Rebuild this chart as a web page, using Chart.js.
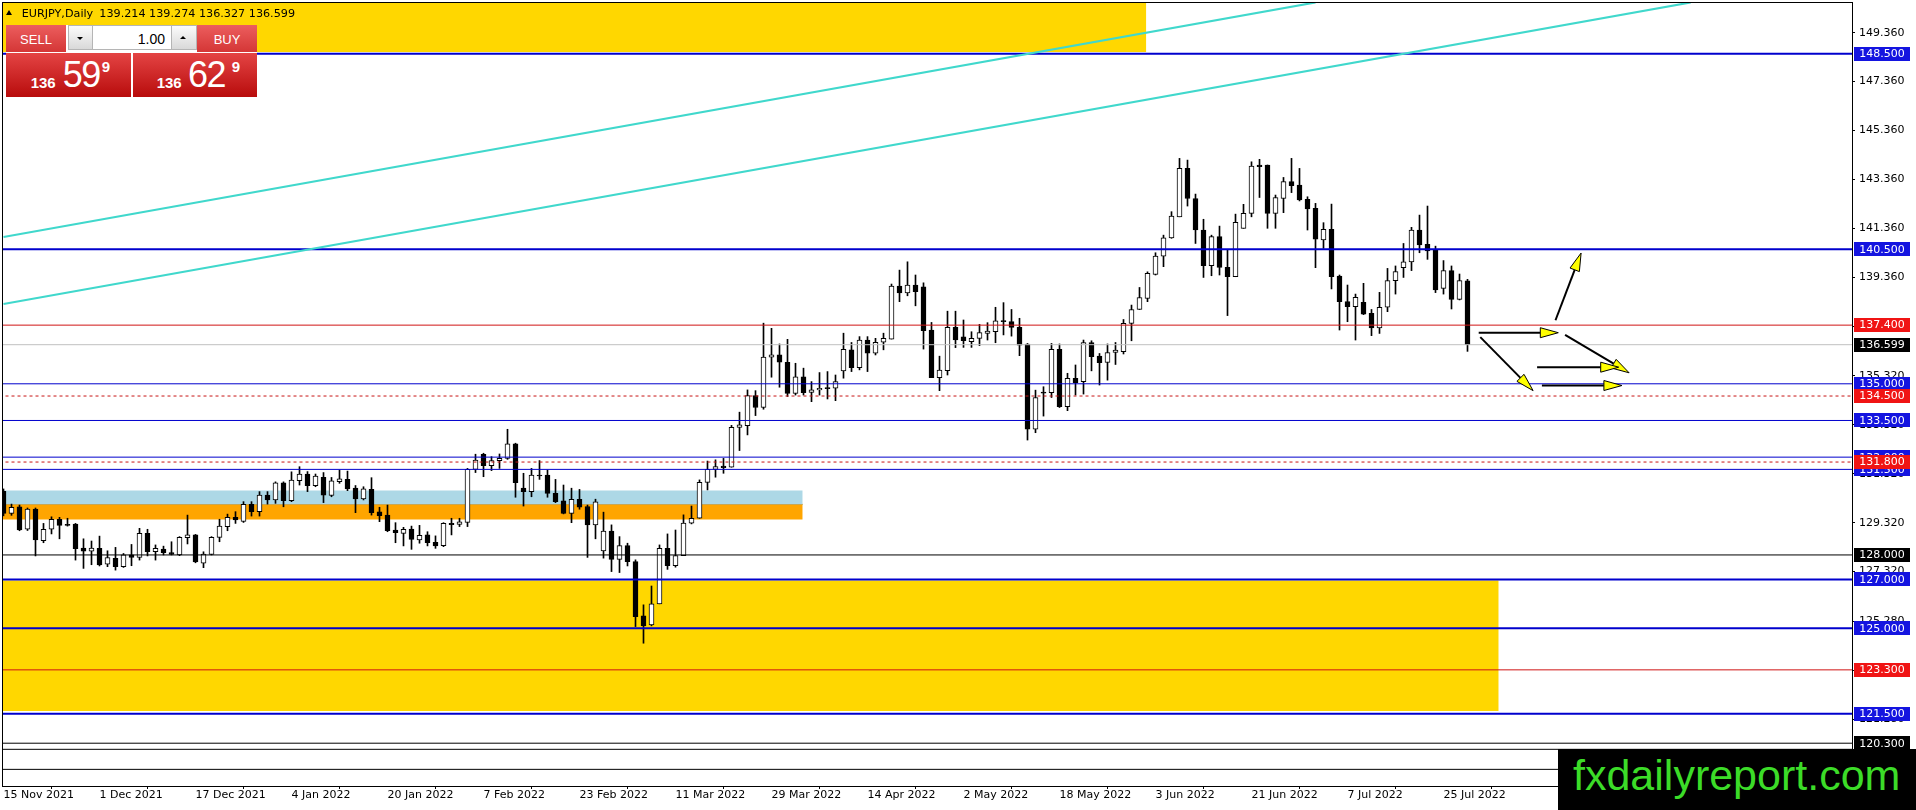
<!DOCTYPE html>
<html><head><meta charset="utf-8">
<script src="https://cdn.jsdelivr.net/npm/chart.js@4.4.1/dist/chart.umd.min.js"></script>
<style>
html,body{margin:0;padding:0;background:#fff;overflow:hidden}
#wrap{position:relative;width:1916px;height:810px}
#c{position:absolute;left:0;top:0}
.a{position:absolute;white-space:pre}
.box{position:absolute;box-sizing:border-box}
.btn{background:linear-gradient(#EC5E5E,#D43636)}
.px{background:linear-gradient(#E44444,#B80C0C)}
.gr{background:linear-gradient(#fbfbfb,#d9d9d9);border:1px solid #b5b5b5}
.w{color:#fff;font-family:'Liberation Sans',Arial,sans-serif;line-height:1}
</style></head><body>
<div id="wrap">
<canvas id="c" width="1916" height="810"></canvas>

<div class="box" style="left:6px;top:10px;width:0;height:0;border-left:3.5px solid transparent;border-right:3.5px solid transparent;border-bottom:5px solid #000"></div>

<div class="box" style="left:6px;top:25px;width:251px;height:72px;background:#fff"></div>
<div class="box btn" style="left:6px;top:25px;width:60px;height:27px"></div>
<div class="a w" style="left:6px;width:60px;text-align:center;top:33.3px;font-size:13px">SELL</div>
<div class="box gr" style="left:68px;top:25px;width:25px;height:25px"></div>
<div class="box" style="left:77px;top:36.5px;width:0;height:0;border-left:3px solid transparent;border-right:3px solid transparent;border-top:3.5px solid #000"></div>
<div class="box" style="left:93px;top:25px;width:78px;height:25px;background:#fff;border-top:1px solid #b5b5b5;border-bottom:1px solid #b5b5b5"></div>
<div class="a" style="left:93px;width:72px;text-align:right;top:31.5px;font:14px/1 'Liberation Sans';color:#000">1.00</div>
<div class="box gr" style="left:171px;top:25px;width:26px;height:25px"></div>
<div class="box" style="left:180px;top:35.5px;width:0;height:0;border-left:3px solid transparent;border-right:3px solid transparent;border-bottom:3.5px solid #000"></div>
<div class="box btn" style="left:197px;top:25px;width:60px;height:27px"></div>
<div class="a w" style="left:197px;width:60px;text-align:center;top:33.3px;font-size:13px">BUY</div>

<div class="box px" style="left:6px;top:53px;width:125px;height:44px"></div>
<div class="a w" style="left:30.7px;top:74.6px;font-size:15px;font-weight:bold">136</div>
<div class="a w" style="left:62.7px;top:56.8px;font-size:36px;letter-spacing:-1.5px">59</div>
<div class="a w" style="left:101.7px;top:59px;font-size:15px;font-weight:bold">9</div>
<div class="box px" style="left:133px;top:53px;width:124px;height:44px"></div>
<div class="a w" style="left:156.7px;top:74.6px;font-size:15px;font-weight:bold">136</div>
<div class="a w" style="left:188px;top:56.8px;font-size:36px;letter-spacing:-1.5px">62</div>
<div class="a w" style="left:231.7px;top:59px;font-size:15px;font-weight:bold">9</div>

<div class="box" style="left:1558px;top:749px;width:358px;height:61px;background:#000"></div>
<div class="a" style="left:1573px;top:753.6px;font:43px/1 'Liberation Sans';color:#3CDC28">fxdailyreport.com</div>
</div>

<script>
// ---------- DATA ----------
const chartTitle = 'EURJPY,Daily';
const titleOHLC = '139.214 139.274 136.327 136.599';
const xTickIndex = [0,12,24,36,48,60,72,84,96,108,120,132,144,156,168,180];
const xTickLabels = ['15 Nov 2021','1 Dec 2021','17 Dec 2021','4 Jan 2022','20 Jan 2022','7 Feb 2022','23 Feb 2022','11 Mar 2022','29 Mar 2022','14 Apr 2022','2 May 2022','18 May 2022','3 Jun 2022','21 Jun 2022','7 Jul 2022','25 Jul 2022'];
const yTickValues = [149.36,147.36,145.36,143.36,141.36,139.36,137.36,135.32,133.32,131.32,129.32,127.32,125.28,123.28,121.28];

const openP = [
130.60,129.70,129.97,129.05,129.88,128.58,129.05,129.46,129.25,129.26,
128.28,128.15,128.27,127.62,127.86,127.52,128.00,127.90,128.88,128.13,
128.24,128.10,128.00,128.71,128.82,127.66,128.02,128.72,129.16,129.54,
129.37,130.07,129.77,130.45,130.25,130.95,130.22,131.04,131.31,130.83,
131.17,130.43,131.00,131.09,130.73,130.29,130.68,129.76,129.63,129.02,
128.88,129.06,128.61,128.82,128.52,128.38,129.29,129.25,129.33,131.50,
132.12,131.65,131.86,131.95,132.54,130.73,130.59,131.27,131.27,130.52,
130.21,129.70,130.28,129.98,129.23,128.16,128.98,127.82,128.38,127.73,
125.51,125.14,126.00,128.27,127.56,127.97,129.30,129.50,130.97,131.50,
131.64,131.59,133.22,133.29,134.52,134.03,136.09,136.18,135.88,134.61,
135.29,134.65,134.75,134.85,134.82,135.53,136.39,135.66,136.79,136.25,
136.70,136.83,139.00,138.72,139.04,138.97,137.20,135.25,135.54,137.31,
136.92,136.72,136.86,137.06,137.13,137.59,137.54,137.31,136.62,133.14,
134.66,134.64,136.41,134.06,135.22,135.09,136.69,136.13,135.87,136.28,
136.31,137.47,138.04,138.49,139.47,140.22,140.97,141.83,143.81,142.58,
141.29,139.83,141.02,139.76,139.38,141.36,141.97,143.95,143.95,141.97,
142.58,143.27,143.13,142.54,142.18,140.88,141.32,139.41,138.36,138.15,
138.33,137.88,137.29,138.13,139.22,139.75,139.99,141.29,140.70,140.50,
138.90,139.63,138.45,139.214];
const highP = [
130.70,130.08,130.04,129.92,129.92,129.29,129.56,129.54,129.50,129.29,
128.66,128.57,128.77,128.17,128.31,128.06,128.43,129.09,129.05,128.41,
128.36,128.54,128.75,129.63,128.84,128.13,128.75,129.46,129.67,129.77,
130.18,130.18,130.59,130.59,130.99,130.99,131.40,131.61,131.41,131.31,
131.37,131.17,131.47,131.43,130.84,130.79,131.16,129.95,130.04,129.32,
129.13,129.18,129.21,128.95,128.78,129.32,129.50,129.50,131.54,132.12,
132.16,132.02,132.13,133.14,132.57,131.34,131.54,131.86,131.47,131.09,
130.86,130.73,130.68,130.04,130.28,129.75,129.23,128.75,128.48,127.80,
125.96,126.73,128.41,128.86,129.02,129.64,130.00,131.07,131.84,131.89,
131.95,133.30,133.84,134.75,134.72,137.48,137.27,136.63,136.82,135.84,
135.64,135.09,135.46,135.50,135.36,137.07,136.69,136.93,136.93,136.86,
137.07,139.08,139.65,139.99,139.45,139.13,137.51,136.13,137.97,137.97,
137.61,137.13,137.43,137.50,138.13,138.32,138.04,137.68,136.65,134.74,
134.88,136.65,136.63,135.43,135.77,136.79,136.76,136.24,136.63,136.69,
137.63,138.22,138.94,139.58,140.36,141.08,142.04,144.22,144.15,142.76,
141.73,141.08,141.45,140.47,141.94,142.34,144.08,144.18,143.95,142.72,
143.44,144.22,143.81,142.65,142.38,141.59,142.35,139.45,139.04,138.67,
139.11,138.04,138.74,139.72,139.82,140.74,141.40,141.90,142.27,140.63,
140.04,139.82,139.49,139.274];
const lowP = [
129.60,129.62,128.99,129.00,127.96,128.50,128.86,128.66,129.18,127.79,
127.45,127.60,127.55,127.52,127.38,127.49,127.56,127.79,127.96,127.79,
128.00,128.00,127.97,128.45,127.68,127.48,128.00,128.54,128.99,129.29,
129.33,129.59,129.59,130.08,130.11,129.97,130.18,130.86,130.59,130.79,
130.14,130.38,130.93,130.63,129.73,130.25,129.63,129.36,128.95,128.50,
128.37,128.23,128.48,128.37,128.27,128.34,128.82,129.16,129.16,131.37,
131.20,131.45,131.54,131.91,130.36,130.00,130.38,131.09,130.36,130.14,
129.68,129.32,129.87,127.90,128.66,127.87,127.32,127.28,127.55,125.07,
124.39,125.10,126.00,127.41,127.50,127.97,129.27,129.50,130.66,131.18,
131.34,131.59,132.27,132.91,133.70,133.96,135.27,134.86,134.48,134.54,
134.54,134.27,134.54,134.38,134.31,135.23,135.50,135.57,135.50,136.18,
136.39,136.83,138.36,138.60,138.19,136.42,135.25,134.72,135.36,136.48,
136.49,136.49,136.56,136.79,136.68,137.00,136.95,136.15,132.70,133.00,
133.68,134.44,134.03,133.90,134.54,134.58,135.53,134.95,135.15,135.79,
136.22,136.76,138.04,138.36,139.45,139.79,140.95,141.83,142.27,140.74,
139.35,139.42,139.45,137.79,139.38,141.36,141.83,142.62,141.36,141.36,
142.00,142.82,142.48,141.29,139.75,140.54,138.88,137.20,137.54,136.79,
137.83,136.97,137.06,137.95,138.67,139.35,139.63,140.36,140.09,138.73,
138.67,138.06,138.43,136.327];
const closeP = [
129.70,129.95,129.02,129.88,128.61,129.05,129.46,129.21,129.21,128.26,
128.15,128.28,127.59,127.89,127.52,128.00,127.90,128.88,128.13,128.27,
128.09,128.02,128.72,128.82,127.72,128.04,128.72,129.18,129.54,129.43,
130.07,129.77,130.45,130.25,130.95,130.22,131.06,131.31,130.83,131.23,
130.45,131.03,131.11,130.70,130.29,130.70,129.73,129.61,128.99,128.91,
129.05,128.64,128.80,128.50,128.37,129.29,129.24,129.35,131.50,131.88,
131.65,131.86,131.95,132.54,130.96,130.59,131.27,131.23,130.52,130.18,
129.70,130.28,129.95,129.23,130.17,128.98,127.82,128.38,127.73,125.48,
125.10,126.00,128.27,127.56,127.97,129.30,129.50,130.97,131.50,131.61,
131.57,133.22,133.32,134.52,134.03,136.09,136.18,135.88,134.61,135.29,
134.64,134.75,134.82,134.80,135.09,136.41,135.66,136.79,136.25,136.70,
136.86,139.00,138.72,139.04,138.77,137.17,135.25,135.56,137.31,136.79,
136.76,136.86,137.09,137.16,137.58,137.54,137.31,136.58,133.14,134.44,
134.62,136.41,134.06,135.22,135.05,136.69,136.11,135.86,136.28,136.38,
137.47,138.04,138.53,139.52,140.22,140.97,141.86,143.81,142.58,141.29,
139.83,141.02,139.76,139.38,141.60,141.97,143.91,143.88,141.97,142.62,
143.27,143.10,142.52,142.15,140.92,141.32,139.38,138.36,138.15,138.54,
137.85,137.29,138.13,139.22,139.59,139.99,141.29,140.68,140.44,138.84,
139.63,138.45,139.22,136.599];

const levelPrices = [148.5,140.5,137.4,136.599,135.0,134.5,133.5,132.0,131.8,131.5,128.0,127.0,125.0,123.3,121.5,120.3,120.05,119.23];
const levelKinds  = ['blueThick','blueThick','red','gray','blue','redDash','blue','blue','redDash','blue','black','blueThick','blueThick','red','blueThick','black','black','black'];

const tagPrices = [148.5,140.5,137.4,136.599,135.0,134.5,133.5,132.0,131.5,131.8,128.0,127.0,125.0,123.3,121.5,120.3];
const tagKinds  = ['blue','blue','red','black','blue','red','blue','blue','blue','red','black','blue','blue','red','blue','black'];

const zoneX0 = [-1,-1,-1,-1];
const zoneX1 = [142.85,186.9,99.9,99.9];
const zoneTop = [151.0,126.95,130.64,130.07];
const zoneBottom = [148.57,121.62,130.07,129.45];
const zoneKinds = ['gold','gold','lightblue','orange'];

const trendX0 = [0,0];
const trendY0 = [141.0,138.26];
const trendX1 = [164.0,210.9];
const trendY1 = [150.6,150.6];

const arrowX0 = [184.4,194.0,195.2,191.7,184.6,192.3];
const arrowY0 = [137.09,137.60,137.00,135.68,136.91,134.93];
const arrowX1 = [194.35,197.2,203.2,201.9,191.2,202.3];
const arrowY1 = [137.09,140.35,135.45,135.68,134.72,134.93];

// ---------- STYLES ----------
const LEVEL_STYLE = {
  blueThick:{color:'#0000CD',width:2,dash:[]},
  blue:{color:'#0000CD',width:1,dash:[]},
  red:{color:'#D01414',width:1,dash:[]},
  redDash:{color:'#C81414',width:1,dash:[3,3]},
  black:{color:'#000000',width:1,dash:[]},
  gray:{color:'#C0C0C0',width:1,dash:[]}
};
const TAG_COLOR = {blue:'#1414E0',red:'#F01414',black:'#000000'};
const ZONE_COLOR = {gold:'#FFD700',lightblue:'#ADD8E6',orange:'#FFA500'};
const FONT = "'DejaVu Sans'";

// ---------- DATASETS ----------
const idx = openP.map((_, i) => i);
const datasets = [];

zoneKinds.forEach((k, i) => {
  datasets.push({
    type:'line', order:20, clip:0,
    data:[{x:zoneX0[i],y:zoneTop[i]},{x:zoneX1[i],y:zoneTop[i]}],
    borderWidth: k==='orange'?1:0, borderColor: k==='orange'?'#C8901E':ZONE_COLOR[k],
    backgroundColor:ZONE_COLOR[k], pointRadius:0,
    fill:{value:zoneBottom[i]}
  });
});

datasets.push({
  type:'bar', order:6, grouped:false, clip:0,
  data: idx.map(i => ({x:i, y:[lowP[i], highP[i]]})),
  backgroundColor:'#000', borderWidth:0, barThickness:1
});
datasets.push({
  type:'bar', order:5, grouped:false, clip:0, minBarLength:1,
  data: idx.map(i => ({x:i, y:[openP[i], closeP[i]]})),
  backgroundColor: idx.map(i => closeP[i] > openP[i] ? '#FFFFFF' : '#000000'),
  borderColor:'#000', borderWidth:1, borderSkipped:false, barThickness:5
});

levelPrices.forEach((v, i) => {
  const s = LEVEL_STYLE[levelKinds[i]];
  datasets.push({
    type:'line', order:3, clip:0,
    data:[{x:-5,y:v},{x:240,y:v}],
    borderColor:s.color, borderWidth:s.width, borderDash:s.dash,
    pointRadius:0, fill:false
  });
});

trendX0.forEach((x0, i) => {
  datasets.push({
    type:'line', order:2, clip:0,
    data:[{x:x0,y:trendY0[i]},{x:trendX1[i],y:trendY1[i]}],
    borderColor:'#40D8CC', borderWidth:2, pointRadius:0, fill:false
  });
});

// ---------- PLUGINS ----------
const arrowPlugin = {
  id:'arrows',
  afterDatasetsDraw(chart){
    const {ctx, scales:{x, y}} = chart;
    ctx.save();
    for (let k = 0; k < arrowX0.length; k++){
      const x0 = x.getPixelForValue(arrowX0[k]), y0 = y.getPixelForValue(arrowY0[k]);
      const x1 = x.getPixelForValue(arrowX1[k]), y1 = y.getPixelForValue(arrowY1[k]);
      const a = Math.atan2(y1 - y0, x1 - x0);
      const L = 18, W = 5;
      const bx = x1 - L*Math.cos(a), by = y1 - L*Math.sin(a);
      ctx.strokeStyle = '#000'; ctx.lineWidth = 2;
      ctx.beginPath(); ctx.moveTo(x0, y0); ctx.lineTo(bx, by); ctx.stroke();
      ctx.beginPath();
      ctx.moveTo(x1, y1);
      ctx.lineTo(bx + W*Math.sin(a), by - W*Math.cos(a));
      ctx.lineTo(bx - W*Math.sin(a), by + W*Math.cos(a));
      ctx.closePath();
      ctx.fillStyle = '#FFFF00'; ctx.fill();
      ctx.lineWidth = 1; ctx.stroke();
    }
    ctx.restore();
  }
};

const framePlugin = {
  id:'frameTags',
  afterDraw(chart){
    const {ctx, chartArea:a, scales:{y}} = chart;
    ctx.save();
    ctx.strokeStyle = '#000'; ctx.lineWidth = 1;
    ctx.strokeRect(Math.round(a.left)+0.5, Math.round(a.top)+0.5, Math.round(a.right-a.left), Math.round(a.bottom-a.top));
    ctx.font = '11px ' + FONT;
    ctx.textBaseline = 'middle'; ctx.textAlign = 'left';
    tagPrices.forEach((v, i) => {
      const py = y.getPixelForValue(v);
      ctx.fillStyle = TAG_COLOR[tagKinds[i]];
      ctx.fillRect(a.right + 2, Math.round(py - 7), 56, 14);
      ctx.fillStyle = '#FFFFFF';
      ctx.fillText(v.toFixed(3), a.right + 7.3, py + 0.5);
    });
    // title: fit to the reference text span
    const mw = ctx.measureText(titleOHLC).width || 192;
    const fs = Math.max(10, Math.min(14, 11 * 195.7 / mw));
    ctx.font = fs.toFixed(2) + 'px ' + FONT;
    ctx.fillStyle = '#000';
    ctx.textBaseline = 'alphabetic';
    ctx.fillText(chartTitle, 21.7, 17.3);
    ctx.fillText(titleOHLC, 99.3, 17.3);
    ctx.restore();
  }
};

new Chart(document.getElementById('c'), {
  type:'bar',
  data:{datasets},
  options:{
    responsive:false, animation:false, devicePixelRatio:1,
    layout:{padding:{left:2, top:2, right:0, bottom:0}, autoPadding:false},
    plugins:{legend:{display:false}, tooltip:{enabled:false}},
    scales:{
      x:{
        type:'linear', min:-0.1875, max:231.0625, offset:false, bounds:'data',
        afterBuildTicks: s => { s.ticks = xTickIndex.map(v => ({value:v})); },
        afterFit: s => { s.height = 24; s.paddingLeft = 0; s.paddingRight = 0; s.paddingTop = 0; s.paddingBottom = 0; },
        ticks:{autoSkip:false, maxRotation:0, minRotation:0, align:'start', padding:0,
          color:'#000', font:{family:'DejaVu Sans', size:11},
          callback: v => { const j = xTickIndex.indexOf(v); return j >= 0 ? xTickLabels[j] : ''; }},
        grid:{display:true, drawOnChartArea:false, drawTicks:true, tickLength:3, color:'#000'},
        border:{display:false}
      },
      y:{
        type:'linear', position:'right', min:118.55, max:150.616, bounds:'data',
        afterBuildTicks: s => { s.ticks = yTickValues.map(v => ({value:v})); },
        afterFit: s => { s.width = 64; s.paddingTop = 0; s.paddingBottom = 0; s.paddingLeft = 0; s.paddingRight = 0; },
        ticks:{autoSkip:false, padding:4, color:'#000', font:{family:'DejaVu Sans', size:11},
          callback: v => Number(v).toFixed(3)},
        grid:{display:true, drawOnChartArea:false, drawTicks:true, tickLength:3, color:'#000'},
        border:{display:false}
      }
    }
  },
  plugins:[arrowPlugin, framePlugin]
});
</script>
</body></html>
